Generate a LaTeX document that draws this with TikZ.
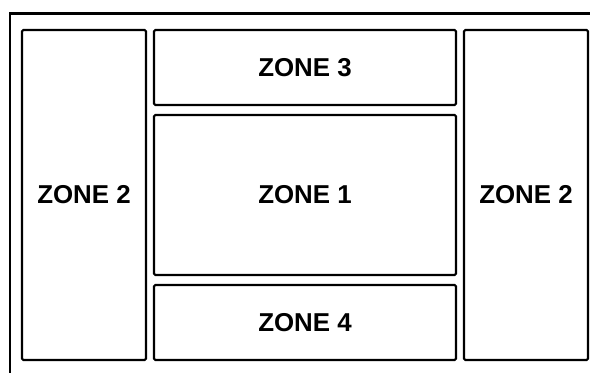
\documentclass[tikz,border=0pt]{standalone}
\usepackage{fontspec}
\setmainfont{Liberation Sans}
\usepackage{tikz}
\usetikzlibrary{positioning}

\begin{document}
\begin{tikzpicture}[
  x=0.75pt, y=-0.75pt,
  zone/.style={draw, rectangle, line width=1.6pt, rounded corners=1pt, inner sep=0pt, outer sep=0pt,
    align=center, font=\fontsize{19.4}{22}\selectfont\bfseries},
  side/.style={zone, minimum width=93pt, minimum height=247.5pt},
  mid/.style={zone, minimum width=226.5pt, minimum height=56.25pt},
  frame/.style={line width=1.6pt}
]
  \useasboundingbox (0,0) rectangle (590,372);

  % Nodes
  \node[zone, minimum width=226.5pt, minimum height=120pt] (z1) at (305,195) {ZONE 1};
  \node[mid, above=7.5pt of z1] (z3) {ZONE 3};
  \node[mid, below=7.5pt of z1] (z4) {ZONE 4};
  \node[side, left=6pt of z1] (z2l) {ZONE 2};
  \node[side, right=6pt of z1] (z2r) {ZONE 2};

  % Frame
  \draw[frame] (592,13.5) -- (10,13.5) -- (10,374);
\end{tikzpicture}
\end{document}
